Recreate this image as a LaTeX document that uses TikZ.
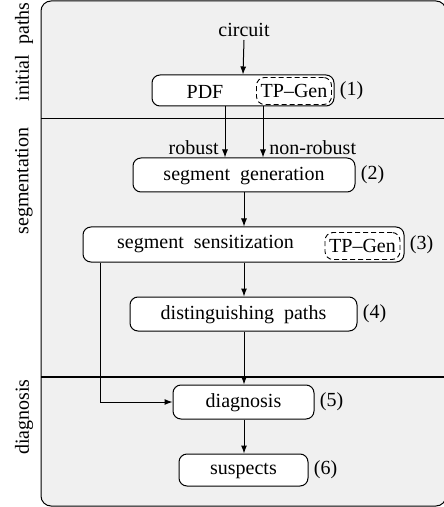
\documentclass[tikz,border=0pt]{standalone}
\usepackage{fontspec}
\setmainfont{Liberation Serif}
\usetikzlibrary{arrows.meta}
\definecolor{bandgrey}{HTML}{F0F0F0}
\begin{document}
\begin{tikzpicture}[x=0.5pt,y=-0.5pt,
  font=\fontsize{10}{12}\selectfont,
  box/.style={draw,line width=0.5pt,rounded corners=4pt,fill=white,inner sep=0pt},
  tpgen/.style={draw,dashed,dash pattern=on 2.5pt off 1.5pt,line width=0.45pt,rounded corners=4pt,inner sep=0pt,minimum width=37.5pt,minimum height=13.5pt},
  txt/.style={inner sep=0pt},
  num/.style={inner sep=0pt,anchor=west,xshift=2.5pt},
  arr/.style={line width=0.5pt,-{Latex[length=4pt,width=3pt]}},
  ln/.style={line width=0.5pt},
  side/.style={inner sep=0pt,rotate=90}]
\useasboundingbox (0,0) rectangle (443,507);
% outer panel
\draw[fill=bandgrey,line width=0.5pt,rounded corners=5pt] (41,1) rectangle (446,506);
\draw[line width=0.5pt] (41,119) -- (446,119);
\draw[line width=1pt] (41,377) -- (446,377);
% side labels
\node[side] (s1) at (24,52) {initial\ \ paths};
\node[side] (s2) at (24,181) {segmentation};
\node[side] (s3) at (24,417) {diagnosis};
% nodes
\node[txt] (circ) at (244,30) {circuit};
\node[box,minimum width=91pt,minimum height=15.5pt] (b1) at (243,90.5) {};
\node[txt] (pdf) at (205,92) {PDF};
\node[tpgen] (tp1) at (294,91) {TP--Gen};
\node[num] (n1) at (b1.east) {(1)};

\node[box,minimum width=111pt,minimum height=17pt] (b2) at (244,175) {};
\node[txt] (t2) at (244,176) {segment\ \ generation};
\node[num] (n2) at (b2.east) {(2)};

\node[box,minimum width=160.5pt,minimum height=17.5pt] (b3) at (243.5,244.5) {};
\node[txt] (t3) at (205.5,244) {segment\ \ sensitization};
\node[tpgen] (tp3) at (362.5,246) {TP--Gen};
\node[num] (n3) at (b3.east) {(3)};

\node[box,minimum width=113.5pt,minimum height=17pt] (b4) at (243.5,314) {};
\node[txt] (t4) at (243.5,315) {distinguishing\ \ paths};
\node[num] (n4) at (b4.east) {(4)};

\node[box,minimum width=70.5pt,minimum height=17pt] (b5) at (243.5,402) {};
\node[txt] (t5) at (243.5,403) {diagnosis};
\node[num] (n5) at (b5.east) {(5)};

\node[box,minimum width=64.5pt,minimum height=16pt] (b6) at (243.5,470) {};
\node[txt] (t6) at (243.5,471) {suspects};
\node[num] (n6) at (b6.east) {(6)};

% connectors
\coordinate (xr) at (225,0);
\coordinate (xn) at (263,0);
\coordinate (xl) at (100,0);
\draw[arr] (circ.south |- 0,40) -- (b1.north);
\draw[arr] (xr |- b1.south) -- (xr |- b2.north);
\draw[arr] (xn |- b1.south) -- (xn |- b2.north);
\node[txt,anchor=east] (rob) at (219,148) {robust};
\node[txt,anchor=west] (nrob) at (269,148) {non-robust};
\draw[arr] (b2.south -| circ.south) -- (b3.north -| circ.south);
\draw[arr] (b3.south -| circ.south) -- (b4.north -| circ.south);
\draw[arr] (b4.south -| circ.south) -- (b5.north -| circ.south);
\draw[arr] (b5.south -| circ.south) -- (b6.north -| circ.south);
\draw[arr] (xl |- b3.south) |- (b5.west);
\end{tikzpicture}
\end{document}
